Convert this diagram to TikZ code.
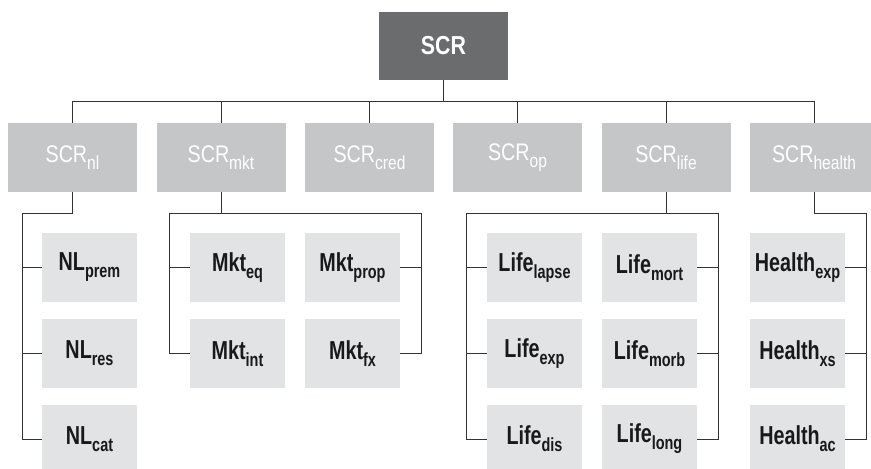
\documentclass[tikz,border=0pt]{standalone}
\usepackage{fontspec}
\setmainfont{Liberation Sans}
\newfontfamily\narrowsf[FakeStretch=0.82]{Liberation Sans}
\newfontfamily\tallsf[FakeStretch=0.76]{Liberation Sans}
\definecolor{topgray}{HTML}{6B6C6E}
\definecolor{midgray}{HTML}{C5C6C8}
\definecolor{lowgray}{HTML}{E2E3E4}
\definecolor{linegray}{HTML}{333333}
\newcommand{\lo}[1]{\raisebox{-7pt}{\fontsize{19pt}{19pt}\selectfont #1}}

\begin{document}
\begin{tikzpicture}[x=1pt, y=-1pt, top/.style={fill=topgray, minimum width=129pt, minimum height=68pt, inner sep=0pt, text=white, font=\narrowsf\bfseries\fontsize{26pt}{26pt}\selectfont}, group/.style={fill=midgray, minimum width=129pt, minimum height=69pt, inner sep=0pt, text=white, font=\narrowsf\fontsize{24pt}{24pt}\selectfont}, risk/.style={fill=lowgray, minimum width=95pt, minimum height=69pt, inner sep=0pt, text=black!90, font=\tallsf\bfseries\fontsize{26pt}{26pt}\selectfont}, link/.style={draw=linegray, line width=1pt}]
\useasboundingbox (0,0) rectangle (871,469);
\node[top] (SCR) at (443.5,46) {SCR};
\node[group] (NL) at (72.5,157.5) {SCR\lo{nl}};
\node[group] (Mkt) at (221,157.5) {SCR\lo{mkt}};
\node[group] (Cred) at (369.5,157.5) {SCR\lo{cred}};
\node[group] (Op) at (517.5,157.5) {SCR\lo{op}};
\node[group] (Life) at (666,157.5) {SCR\lo{life}};
\node[group] (Health) at (814,157.5) {SCR\lo{health}};
\node[risk] (NLprem) at (89.5,267.5) {NL\lo{prem}};
\node[risk] (NLres) at (89.5,353.5) {NL\lo{res}};
\node[risk] (NLcat) at (89.5,439) {NL\lo{cat}};
\node[risk] (Mkteq) at (237.5,267.5) {Mkt\lo{eq}};
\node[risk] (Mktint) at (237.5,353.5) {Mkt\lo{int}};
\node[risk] (Mktprop) at (352.5,267.5) {Mkt\lo{prop}};
\node[risk] (Mktfx) at (352.5,353.5) {Mkt\lo{fx}};
\node[risk] (Lifelapse) at (534.5,267.5) {Life\lo{lapse}};
\node[risk] (Lifeexp) at (534.5,353.5) {Life\lo{exp}};
\node[risk] (Lifedis) at (534.5,439) {Life\lo{dis}};
\node[risk] (Lifemort) at (649.5,267.5) {Life\lo{mort}};
\node[risk] (Lifemorb) at (649.5,353.5) {Life\lo{morb}};
\node[risk] (Lifelong) at (649.5,439) {Life\lo{long}};
\node[risk] (Healthexp) at (797.5,267.5) {Health\lo{exp}};
\node[risk] (Healthxs) at (797.5,353.5) {Health\lo{xs}};
\node[risk] (Healthac) at (797.5,439) {Health\lo{ac}};
% top bus
\coordinate (bus) at (0,101);
\draw[link] (SCR.south) -- (SCR.south |- bus);
\draw[link] (NL.north) -- (NL.north |- bus) -| (Health.north);
\foreach \g in {Mkt,Cred,Op,Life} \draw[link] (\g.north) -- (\g.north |- bus);
% forks under the groups
\coordinate (fork) at (0,213);
\coordinate (NLtrunk) at (22,213);
\coordinate (MktL) at (169,213);
\coordinate (MktR) at (421,213);
\coordinate (LifeL) at (466,213);
\coordinate (LifeR) at (718,213);
\coordinate (HealthR) at (866,213);
\draw[link] (NL.south) |- (NLtrunk);
\foreach \r in {NLprem,NLres,NLcat} \draw[link] (NLtrunk) |- (\r.west);
\draw[link] (Mkt.south) -- (Mkt.south |- fork);
\draw[link] (MktL) -- (MktR);
\foreach \r in {Mkteq,Mktint} \draw[link] (MktL) |- (\r.west);
\foreach \r in {Mktprop,Mktfx} \draw[link] (MktR) |- (\r.east);
\draw[link] (Life.south) -- (Life.south |- fork);
\draw[link] (LifeL) -- (LifeR);
\foreach \r in {Lifelapse,Lifeexp,Lifedis} \draw[link] (LifeL) |- (\r.west);
\foreach \r in {Lifemort,Lifemorb,Lifelong} \draw[link] (LifeR) |- (\r.east);
\draw[link] (Health.south) |- (HealthR);
\foreach \r in {Healthexp,Healthxs,Healthac} \draw[link] (HealthR) |- (\r.east);
\end{tikzpicture}
\end{document}
